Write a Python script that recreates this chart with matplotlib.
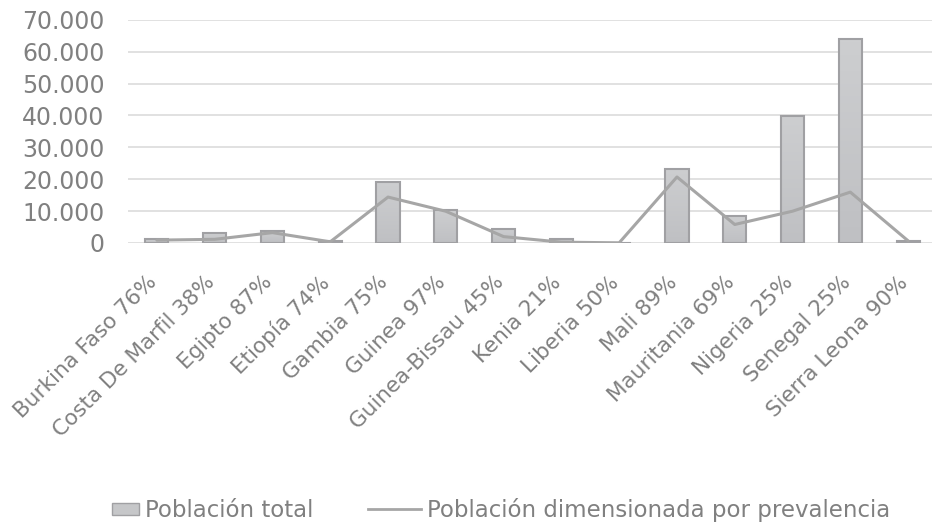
import numpy as np
import matplotlib
matplotlib.use("Agg")
import matplotlib.pyplot as plt
from matplotlib.patches import Rectangle
from matplotlib.lines import Line2D
from matplotlib.legend_handler import HandlerPatch
from matplotlib.ticker import FuncFormatter, MultipleLocator
from matplotlib.transforms import ScaledTranslation

paises = ["Burkina Faso 76%", "Costa De Marfil 38%", "Egipto 87%", "Etiopía 74%",
          "Gambia 75%", "Guinea 97%", "Guinea-Bissau 45%", "Kenia 21%",
          "Liberia 50%", "Mali 89%", "Mauritania 69%", "Nigeria 25%",
          "Senegal 25%", "Sierra Leona 90%"]
poblacion_total = [1200, 3100, 3900, 500, 19150, 10260, 4400, 1250,
                   150, 23230, 8380, 39870, 63840, 750]
poblacion_prev = [900, 1150, 3250, 370, 14400, 9950, 2000, 260,
                  60, 20700, 5800, 9970, 15950, 680]

GRIS_TXT = "#808080"
GRIS_LINEA = "#a6a6a6"
BORDE = "#a0a0a3"

plt.rcParams["font.family"] = ["DejaVu Sans"]

fig = plt.figure(figsize=(9.32, 5.26), dpi=100)
ax = fig.add_axes([128 / 932, 1 - 243 / 526, 809 / 932, (243 - 19.7) / 526])

x = np.arange(len(paises))
bars = ax.bar(x, poblacion_total, width=0.4, facecolor="none", edgecolor=BORDE,
              linewidth=1.5, zorder=3)

# relleno con degradado suave dentro de cada barra
grad = np.linspace(0, 1, 64).reshape(-1, 1)
cmap = matplotlib.colors.LinearSegmentedColormap.from_list("g", ["#bfc0c3", "#cdced0"])
for b in bars:
    x0, w, h = b.get_x(), b.get_width(), b.get_height()
    im = ax.imshow(grad, extent=(x0, x0 + w, 0, h), origin="lower", cmap=cmap,
                   aspect="auto", zorder=2)
    im.set_clip_path(b)

ax.plot(x, poblacion_prev, color=GRIS_LINEA, linewidth=2.2, zorder=4,
        solid_joinstyle="round", solid_capstyle="round")

ax.set_xlim(-0.5, len(paises) - 0.5)
ax.set_ylim(0, 70000)
ax.yaxis.set_major_locator(MultipleLocator(10000))
ax.yaxis.set_major_formatter(FuncFormatter(lambda v, p: f"{int(v):,}".replace(",", ".")))
ax.grid(axis="y", color="#d9d9d9", linewidth=1.1, zorder=0)
ax.set_axisbelow(True)
for s in ax.spines.values():
    s.set_visible(False)

ax.tick_params(axis="y", length=0, pad=17, labelsize=17, labelcolor=GRIS_TXT)
ax.tick_params(axis="x", length=0, pad=21, labelsize=15.5, labelcolor=GRIS_TXT)
ax.set_xticks(x)
ax.set_xticklabels(paises, rotation=45, ha="right", va="top")
# desplazar un poco las etiquetas a la derecha
desplazamiento = ScaledTranslation(4 / 100, 0, fig.dpi_scale_trans)
for lbl in ax.get_xticklabels():
    lbl.set_transform(lbl.get_transform() + desplazamiento)


def caja_pequena(legend, orig_handle, xdescent, ydescent, width, height, fontsize):
    w = height * 1.7
    return Rectangle((width - w - xdescent, -ydescent + height * 0.1), w, height * 0.8)


h_barra = Rectangle((0, 0), 1, 1, facecolor="#c6c7c9", edgecolor=BORDE, linewidth=1.0)
h_linea = Line2D([], [], color=GRIS_LINEA, linewidth=2.0)
fig.legend([h_barra, h_linea], ["Población total", "Población dimensionada por prevalencia"],
           loc="center", bbox_to_anchor=(488 / 932, 1 - 510 / 526), ncol=2,
           frameon=False, fontsize=16.5, labelcolor=GRIS_TXT, handlelength=2.3,
           handletextpad=0.25, columnspacing=2.4,
           handler_map={Rectangle: HandlerPatch(patch_func=caja_pequena)})

fig.savefig("out.png", dpi=100)
